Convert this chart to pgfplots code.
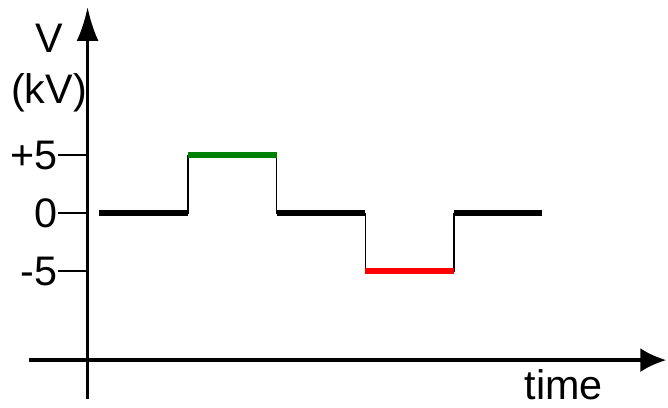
\documentclass[border=0pt]{standalone}
\usepackage{fontspec}
\setmainfont{Liberation Sans}
\usepackage{pgfplots}
\pgfplotsset{compat=1.18}
\usetikzlibrary{arrows.meta}
\definecolor{hiV}{HTML}{008000}
\definecolor{loV}{HTML}{FF0000}

\begin{document}
\begin{tikzpicture}
\begin{axis}[
    scale only axis,
    width=478.5pt, height=294pt,
    xmin=-0.795, xmax=6.398,
    ymin=-15.99, ymax=17.80,
    axis lines=left,
    axis x line shift=-28.9pt,
    axis y line shift=-44pt,
    x axis line style={line width=2.5pt, -{Latex[length=19.5pt,width=18pt]}},
    y axis line style={line width=2.5pt, -{Latex[length=25.5pt,width=16.5pt]}},
    xtick=\empty,
    ytick={-5,0,5},
    yticklabels={-5,0,+5},
    tick style={line width=1.5pt, black},
    major tick length=22.5pt,
    tick align=outside,
    yticklabel style={font={\fontsize{31}{36}\selectfont}, inner sep=0pt},
    /pgf/number format/assume math mode=true,
    ylabel={V\\(kV)},
    ylabel style={rotate=-90, align=center, font={\fontsize{31}{38}\selectfont},
        at={(axis description cs:0.0313,0.8444)}, anchor=center},
    xlabel={time},
    xlabel style={font={\fontsize{31}{36}\selectfont}, inner sep=0pt,
        at={(axis description cs:0.839,0.036)}, anchor=center},
    clip=false,
]
% thin step outline of the pulse train
\addplot[black, line width=1pt, const plot, mark=none]
    coordinates {(0,0) (1,5) (2,0) (3,-5) (4,0) (5,0)};
% thick levels
\addplot[black, line width=4.5pt, mark=none] coordinates {(0,0) (1,0)};
\addplot[hiV, line width=4.5pt, mark=none] coordinates {(1,5) (2,5)};
\addplot[black, line width=4.5pt, mark=none] coordinates {(2,0) (3,0)};
\addplot[loV, line width=4.5pt, mark=none] coordinates {(3,-5) (4,-5)};
\addplot[black, line width=4.5pt, mark=none] coordinates {(4,0) (5,0)};
% frame the page like the reference
\path (axis description cs:-0.04545,-0.02296) rectangle (axis description cs:1.00157,1.01786);
\end{axis}
\end{tikzpicture}
\end{document}
